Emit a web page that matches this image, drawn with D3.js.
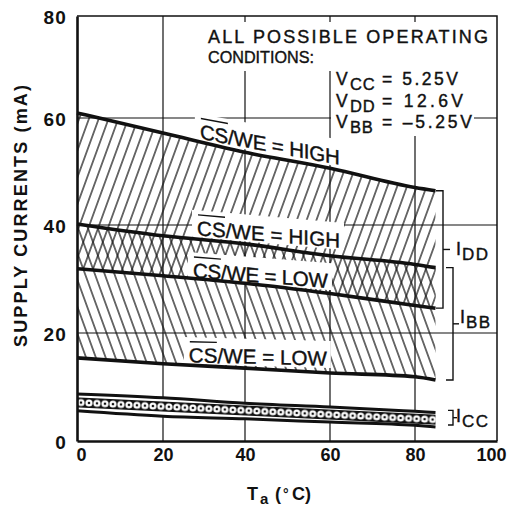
<!DOCTYPE html>
<html><head><meta charset="utf-8">
<script src="https://cdn.jsdelivr.net/npm/d3@7"></script>
<style>
html,body{margin:0;padding:0;background:#fff;}
svg{display:block;font-family:"Liberation Sans",Arial,Helvetica,sans-serif;}
.ann{stroke:#111;stroke-width:0.4px;}
</style></head><body>
<svg id="c" width="510" height="509"></svg>
<script>
// ---- data ----
const temps   = [0, 20, 40, 60, 80, 85];
const iddHigh = [61.0, 57.2, 53.6, 50.6, 47.0, 46.4];
const iddLow  = [31.9, 30.6, 29.2, 27.3, 25.1, 24.6];
const ibbHigh = [40.2, 38.0, 36.5, 34.3, 32.7, 32.1];
const ibbLow  = [15.4, 14.3, 13.5, 12.6, 11.9, 11.3];
const iccHigh = [8.7, 8.0, 7.0, 6.3, 5.5, 5.3];
const iccLow  = [5.6, 4.6, 4.1, 3.5, 2.9, 2.6];
const xTicks  = [0, 20, 40, 60, 80, 100];
const yTicks  = [0, 20, 40, 60, 80];
const condLines = ["ALL POSSIBLE OPERATING", "CONDITIONS:"];
const supplies = [
  {sub: "CC", val: "= 5.25V"},
  {sub: "DD", val: "= 12.6V"},
  {sub: "BB", val: "= \u20135.25V"}
];

const svg = d3.select("#c");
const ink = "#111";

// scales follow the (slightly uneven) printed grid
const x = d3.scaleLinear().domain(xTicks).range([77, 163, 245, 330, 415, 497]);
const y = d3.scaleLinear().domain(yTicks).range([441, 333, 225, 118, 16]);

const defs = svg.append("defs");
function hatch(id, angle, spacing) {
  const p = defs.append("pattern").attr("id", id)
    .attr("patternUnits", "userSpaceOnUse")
    .attr("width", spacing).attr("height", 20)
    .attr("patternTransform", `rotate(${angle})`);
  p.append("rect").attr("x", spacing / 2 - 0.6).attr("y", 0)
    .attr("width", 1.2).attr("height", 20).attr("fill", ink);
}
hatch("fwd", 20, 9.2);
hatch("back", -20, 9.2);

// ICC dotted band pattern aligned with band direction
const a0 = [x(temps[0]), (y(iccHigh[0]) + y(iccLow[0])) / 2];
const a1 = [x(temps[temps.length - 1]), (y(iccHigh[iccHigh.length - 1]) + y(iccLow[iccLow.length - 1])) / 2];
const ang = Math.atan2(a1[1] - a0[1], a1[0] - a0[0]) * 180 / Math.PI;
const dp = defs.append("pattern").attr("id", "dots").attr("patternUnits", "userSpaceOnUse")
  .attr("x", a0[0]).attr("y", a0[1] - 8).attr("width", 8).attr("height", 16)
  .attr("patternTransform", `rotate(${ang},${a0[0]},${a0[1]})`);
dp.append("rect").attr("width", 8).attr("height", 16).attr("fill", "#fff");
dp.append("rect").attr("y", 3).attr("width", 8).attr("height", 10).attr("fill", ink);
dp.append("circle").attr("cx", 4).attr("cy", 8).attr("r", 3.6).attr("fill", "#fff");
dp.append("circle").attr("cx", 4).attr("cy", 8).attr("r", 1.3).attr("fill", ink);

// ---- grid ----
const grid = svg.append("g").attr("stroke", ink).attr("stroke-width", 1.2);
[20, 40, 60, 80].forEach(v => grid.append("line")
  .attr("x1", x(v)).attr("x2", x(v)).attr("y1", y(80)).attr("y2", y(0)));
[20, 40, 60].forEach(v => grid.append("line")
  .attr("y1", y(v)).attr("y2", y(v)).attr("x1", x(0)).attr("x2", x(100)));

// ---- areas ----
const area = (hi, lo) => d3.area()
  .x((d, i) => x(temps[i])).y0((d, i) => y(lo[i])).y1((d, i) => y(hi[i]))
  .curve(d3.curveMonotoneX)(temps);
const line = arr => d3.line().x((d, i) => x(temps[i])).y((d, i) => y(arr[i]))
  .curve(d3.curveMonotoneX)(temps);

svg.append("path").attr("d", area(iddHigh, iddLow)).attr("fill", "url(#fwd)");
svg.append("path").attr("d", area(ibbHigh, ibbLow)).attr("fill", "url(#back)");
svg.append("path").attr("d", area(iccHigh, iccLow)).attr("fill", "url(#dots)");

// ---- white boxes for annotation text ----
const boxes = svg.append("g").attr("fill", "#fff");
boxes.append("rect").attr("x", 203).attr("y", 22).attr("width", 290).attr("height", 49);
boxes.append("rect").attr("x", 331).attr("y", 71).attr("width", 143).attr("height", 65);

const curveLabels = [
  {t: 29.0, v: 56.1, skew: 10.5, len: 140, state: "HIGH"},
  {t: 28.3, v: 38.1, skew: 5.0, len: 143, state: "HIGH"},
  {t: 27.3, v: 30.3, skew: 4.5, len: 135, state: "LOW"},
  {t: 26.3, v: 14.6, skew: 1.5, len: 138, state: "LOW"}
];
const labelTf = l => `translate(${x(l.t)},${y(l.v)}) skewY(${l.skew})`;
curveLabels.forEach(l => {
  boxes.append("rect").attr("transform", labelTf(l))
    .attr("x", -5).attr("y", -25).attr("width", l.len + 9).attr("height", 27);
});

// ---- thick curves ----
const curves = svg.append("g").attr("fill", "none").attr("stroke", ink)
  .attr("stroke-linecap", "butt");
[iddHigh, iddLow, ibbHigh, ibbLow].forEach(a =>
  curves.append("path").attr("d", line(a)).attr("stroke-width", 3.6));
[iccHigh, iccLow].forEach(a =>
  curves.append("path").attr("d", line(a)).attr("stroke-width", 3.0));

// ---- curve labels ----
curveLabels.forEach(l => {
  const g = svg.append("g").attr("transform", labelTf(l));
  const tx = g.append("text").attr("class", "ann").attr("x", 0).attr("y", 0)
    .attr("font-size", 20.5).attr("fill", ink)
    .attr("textLength", l.len).attr("lengthAdjust", "spacing");
  tx.append("tspan").text("CS");
  tx.append("tspan").text("/WE = " + l.state);
  // overline above "CS"
  g.append("line").attr("x1", 1).attr("x2", 28).attr("y1", -20.5).attr("y2", -20.5)
    .attr("stroke", ink).attr("stroke-width", 1.4);
});

// ---- brackets ----
const last = a => a[a.length - 1];
const br = svg.append("g").attr("fill", "none").attr("stroke", ink).attr("stroke-width", 1.4);
function bracket(xl, xv, y0, y1, tickLen) {
  br.append("path").attr("d", `M${xl},${y0}H${xv}V${y1}H${xl}`);
  br.append("line").attr("x1", xv).attr("x2", xv + tickLen)
    .attr("y1", (y0 + y1) / 2).attr("y2", (y0 + y1) / 2);
}
bracket(436, 443, y(last(iddHigh)), y(last(iddLow)), 7);
bracket(446, 453, y(last(ibbHigh)), y(last(ibbLow)), 6);
bracket(448, 453, y(last(iccHigh)) - 2, y(last(iccLow)) - 2, 4);

function currentLabel(xi, base, sub) {
  svg.append("text").attr("class", "ann").attr("x", xi).attr("y", base).attr("font-size", 18).attr("fill", ink).text("I");
  svg.append("text").attr("class", "ann").attr("x", xi + 6).attr("y", base + 5).attr("font-size", 17)
    .attr("letter-spacing", 1.5).attr("fill", ink).text(sub);
}
currentLabel(456, 255, "DD");
currentLabel(460, 323, "BB");
currentLabel(456, 422, "CC");

// ---- condition text ----
const cond = svg.append("g").attr("fill", ink).attr("class", "ann");
cond.append("text").attr("x", 208).attr("y", 43).attr("font-size", 18).attr("textLength", 280)
  .attr("lengthAdjust", "spacing").text(condLines[0]);
cond.append("text").attr("x", 208).attr("y", 63).attr("font-size", 17).attr("textLength", 106)
  .attr("lengthAdjust", "spacingAndGlyphs").text(condLines[1]);
const vBase = [85, 107, 128];
const vEnd = [458, 463, 472];
supplies.forEach((s, i) => {
  cond.append("text").attr("x", 336).attr("y", vBase[i]).attr("font-size", 17.5).text("V");
  cond.append("text").attr("x", 350).attr("y", vBase[i] + 5).attr("font-size", 16.5)
    .attr("letter-spacing", 0.8).text(s.sub);
  const sx = 382;
  cond.append("text").attr("x", sx).attr("y", vBase[i]).attr("font-size", 17.5)
    .attr("textLength", vEnd[i] - sx).attr("lengthAdjust", "spacing").text(s.val);
});

// ---- axes ----
const xAxis = svg.append("g").attr("transform", `translate(0,${y(0)})`)
  .call(d3.axisBottom(x).tickValues(xTicks).tickSize(0).tickPadding(7));
xAxis.select(".domain").attr("stroke", ink).attr("stroke-width", 2.4);
xAxis.selectAll("text").attr("font-size", 18).attr("font-weight", "bold")
  .attr("font-family", '"Liberation Sans",Arial,sans-serif').attr("fill", ink)
  .attr("dx", d => d === 0 ? 4 : d === 100 ? -6 : 0);

const yAxis = svg.append("g").attr("transform", `translate(${x(0)},0)`)
  .call(d3.axisLeft(y).tickValues(yTicks).tickSize(0).tickPadding(10));
yAxis.select(".domain").attr("stroke", ink).attr("stroke-width", 2.6);
yAxis.selectAll("text").attr("font-size", 19).attr("font-weight", "bold")
  .attr("font-family", '"Liberation Sans",Arial,sans-serif').attr("fill", ink)
  .attr("letter-spacing", 1.2).attr("dy", "0.40em");

// top & right border
svg.append("path").attr("d", `M${x(0)},${y(80)}H${x(100)}V${y(0)}`)
  .attr("fill", "none").attr("stroke", ink).attr("stroke-width", 1.5);

// ---- axis titles ----
svg.append("text").attr("transform", `translate(27,216) rotate(-90)`)
  .attr("text-anchor", "middle").attr("font-size", 18).attr("font-weight", "bold")
  .attr("fill", ink).attr("textLength", 262).attr("lengthAdjust", "spacing")
  .text("SUPPLY CURRENTS (mA)");

const xt = svg.append("text").attr("y", 500).attr("font-size", 18).attr("font-weight", "bold").attr("fill", ink);
xt.append("tspan").attr("x", 247).text("T");
xt.append("tspan").attr("x", 260).attr("dy", 4).attr("font-size", 15).text("a");
xt.append("tspan").attr("x", 275).attr("dy", -4).text("(");
xt.append("tspan").attr("x", 283).attr("dy", -1).attr("font-size", 14).text("\u00B0");
xt.append("tspan").attr("x", 292).attr("dy", 1).text("C)");
</script>
</body></html>
